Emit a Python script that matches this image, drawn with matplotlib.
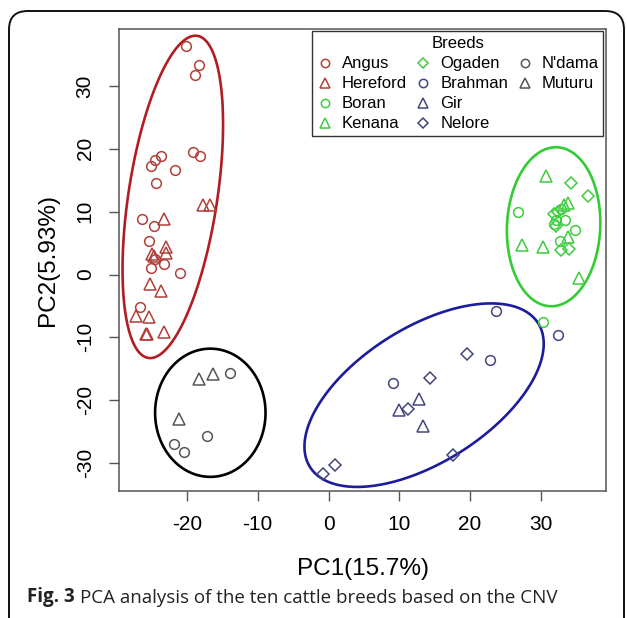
import numpy as np
import matplotlib.pyplot as plt
from matplotlib.lines import Line2D
from matplotlib.patches import FancyBboxPatch, Polygon

# PC scores
angus_x = [-20.2, -18.3, -18.8, -19.2, -18.1, -23.7, -24.5, -25.1, -21.7, -24.4, -26.3, -24.6, -25.3, -24.5, -25.1, -23.3, -21.0, -26.6]
angus_y = [36.3, 33.3, 31.7, 19.5, 18.9, 18.9, 18.2, 17.2, 16.6, 14.6, 8.9, 7.7, 5.3, 2.4, 1.1, 1.7, 0.2, -5.1]
hereford_x = [-17.7, -16.8, -23.3, -23.0, -22.9, -24.9, -24.7, -25.2, -23.7, -27.2, -25.3, -25.8, -25.6, -23.3]
hereford_y = [11.1, 11.1, 8.8, 4.4, 3.4, 3.2, 2.9, -1.5, -2.7, -6.6, -6.8, -9.5, -9.4, -9.2]
boran_x = [26.7, 32.9, 32.2, 33.4, 34.8, 32.7, 31.9, 30.3]
boran_y = [10.0, 10.5, 8.7, 8.7, 7.1, 5.3, 8.1, -7.6]
kenana_x = [30.7, 33.9, 27.4, 30.3, 33.8, 35.4, 33.2]
kenana_y = [15.7, 11.3, 4.7, 4.4, 5.9, -0.6, 11.0]
ogaden_x = [34.2, 36.7, 32.4, 32.2, 32.9, 34.0, 31.9]
ogaden_y = [14.5, 12.5, 10.0, 7.7, 3.9, 4.0, 9.7]
brahman_x = [23.6, 22.8, 9.05, 32.4]
brahman_y = [-5.8, -13.6, -17.2, -9.6]
gir_x = [12.8, 9.9, 13.3]
gir_y = [-19.8, -21.5, -24.1]
nelore_x = [19.5, 14.4, 11.2, 17.6, 0.9, -0.8]
nelore_y = [-12.7, -16.4, -21.4, -28.7, -30.3, -31.8]
ndama_x = [-13.9, -17.1, -21.8, -20.4]
ndama_y = [-15.6, -25.7, -27.0, -28.3]
muturu_x = [-18.3, -16.3, -21.1]
muturu_y = [-16.7, -15.9, -23.0]

breeds = ["Angus", "Hereford", "Boran", "Kenana", "Ogaden",
          "Brahman", "Gir", "Nelore", "N'dama", "Muturu"]

# group ellipses: centre, half extent in x / y, correlation
ell_cx = [-22.0, 13.5, 31.8, -16.7]
ell_cy = [12.35, -19.2, 7.6, -22.0]
ell_sx = [7.1, 16.9, 6.6, 7.8]
ell_sy = [25.65, 14.6, 12.65, 10.2]
ell_r = [0.45, 0.56, 0.05, 0.0]

red, green, blue, grey = "#B0403A", "#3FCC3F", "#45457E", "#555555"
ell_cols = ["#B01E23", "#1C1C9C", "#33CC33", "#000000"]

xs = [angus_x, hereford_x, boran_x, kenana_x, ogaden_x, brahman_x, gir_x, nelore_x, ndama_x, muturu_x]
ys = [angus_y, hereford_y, boran_y, kenana_y, ogaden_y, brahman_y, gir_y, nelore_y, ndama_y, muturu_y]
cols = [red, red, green, green, green, blue, blue, blue, grey, grey]
marks = ["o", "^", "o", "^", "D", "o", "^", "D", "o", "^"]
msize = {"o": 7, "^": 8, "D": 6}

plt.rcParams['font.family'] = ['Liberation Sans', 'DejaVu Sans']
plt.rcParams['axes.unicode_minus'] = False

fig = plt.figure(figsize=(6.27, 6.18), dpi=100)
ax = fig.add_axes([0.1898, 0.2055, 0.7767, 0.7476])

t = np.linspace(0, 2*np.pi, 300)
for cx, cy, sx, sy, r, c in zip(ell_cx, ell_cy, ell_sx, ell_sy, ell_r, ell_cols):
    ex = cx + sx*np.cos(t)
    ey = cy + sy*(r*np.cos(t) + np.sqrt(1 - r*r)*np.sin(t))
    ax.add_patch(Polygon(np.column_stack([ex, ey]), closed=True, fill=False, ec=c, lw=1.9))

for x, y, c, m in zip(xs, ys, cols, marks):
    ax.plot(x, y, ls="none", marker=m, ms=msize[m], mfc="none", mec=c, mew=1.1)

ax.set_xlim(-29.6, 39.2)
ax.set_ylim(-34.45, 39.07)
ax.set_xticks([-20, -10, 0, 10, 20, 30])
ax.set_yticks([-30, -20, -10, 0, 10, 20, 30])
for s in ax.spines.values():
    s.set_color("#555555")
    s.set_linewidth(1.1)
ax.tick_params(length=7.5, width=1.0, color="#555555", labelsize=15, pad=10)
for lab in ax.get_yticklabels():
    lab.set_rotation(90)
    lab.set_va("center")
ax.set_xlabel("PC1(15.7%)", fontsize=17.5, labelpad=17)
ax.set_ylabel("PC2(5.93%)", fontsize=17.5, labelpad=12)

handles = [Line2D([], [], ls="none", marker=m, ms=msize[m]-1, mfc="none", mec=c, mew=1.1)
           for c, m in zip(cols, marks)]
labels = list(breeds)
# two blank slots so the third column holds just two entries
handles += [Line2D([], [], ls="none"), Line2D([], [], ls="none")]
labels += ["", ""]
leg = ax.legend(handles, labels, title="Breeds", ncol=3, loc="upper right",
                bbox_to_anchor=(1, 1), borderaxespad=0.15, fontsize=12, title_fontsize=12,
                frameon=True, fancybox=False, edgecolor="#333333", framealpha=1,
                handlelength=1.0, handletextpad=0.5, columnspacing=0.5,
                labelspacing=0.3, borderpad=0.3)
leg.get_frame().set_linewidth(1.0)

# outer figure panel frame
frame = FancyBboxPatch((9/627, -0.05), 615/627, 1.05 - 11/618,
                       boxstyle="round,pad=0,rounding_size=0.03",
                       transform=fig.transFigure, fill=False, ec="#111111", lw=1.4)
fig.add_artist(frame)

t1 = fig.text(27/627, 1 - 602/618, "Fig. 3", fontsize=13.5, fontweight="bold",
              family=["Open Sans", "DejaVu Sans"], color="#222222")
ax.annotate("PCA analysis of the ten cattle breeds based on the CNV", xy=(1, 0), xycoords=t1,
            xytext=(3.5, 0), textcoords="offset points", va="bottom", ha="left",
            fontsize=13.5, family=["Open Sans", "DejaVu Sans"], color="#222222",
            annotation_clip=False)

fig.savefig("out.png", dpi=100)
